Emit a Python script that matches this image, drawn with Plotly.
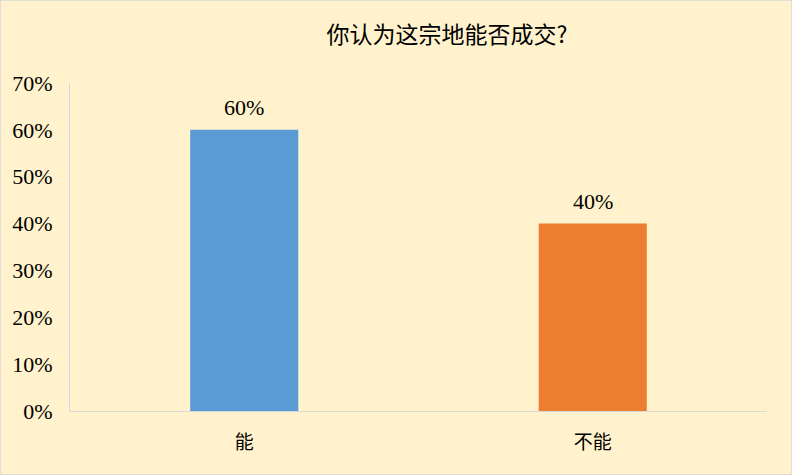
import plotly.graph_objects as go

categories = ["能", "不能"]
values = [0.60, 0.40]
value_labels = ["60%", "40%"]
bar_colors = ["#5B9BD5", "#ED7D31"]
title_text = "你认为这宗地能否成交?"

num_font = "Liberation Serif, Noto Sans CJK SC, serif"

fig = go.Figure(
    data=go.Bar(
        x=categories,
        y=values,
        marker=dict(color=bar_colors, line=dict(width=0)),
        hoverinfo="skip",
    )
)

# value labels above the bars
for cat, val, lab in zip(categories, values, value_labels):
    fig.add_annotation(
        x=cat, y=val, text=lab, showarrow=False,
        yanchor="bottom", yshift=8,
        font=dict(family=num_font, size=22, color="#000000"),
    )

fig.update_layout(
    width=792,
    height=475,
    paper_bgcolor="#FFF2CC",
    plot_bgcolor="#FFF2CC",
    margin=dict(l=70, r=25, t=83, b=64),
    bargap=0.69,
    showlegend=False,
    title=dict(
        text=title_text,
        x=447 / 792, xanchor="center",
        y=1 - 35 / 475, yanchor="middle",
        font=dict(family="Noto Sans CJK SC, serif", size=23, color="#000000"),
    ),
    xaxis=dict(
        showline=True, linecolor="#D9D9D9", linewidth=1,
        showgrid=False, ticks="", ticklabelstandoff=14,
        tickfont=dict(family="Noto Sans CJK SC", size=19, color="#000000"),
        fixedrange=True,
    ),
    yaxis=dict(
        range=[0, 0.7], dtick=0.1, tickformat=".0%",
        showline=True, linecolor="#D0D7E5", linewidth=1,
        showgrid=False, zeroline=False, ticks="",
        ticklabelstandoff=12,
        tickfont=dict(family=num_font, size=22, color="#000000"),
        fixedrange=True,
    ),
    shapes=[dict(
        type="rect", xref="paper", yref="paper",
        x0=-70 / 697, x1=1 + 25 / 697, y0=-64 / 328, y1=1 + 83 / 328,
        line=dict(color="#D9D9D9", width=1.5), fillcolor="rgba(0,0,0,0)",
        layer="below",
    )],
)

fig.write_html(
    "out.html",
    config=dict(displayModeBar=False),
    post_script="document.body.style.margin='0';",
)
